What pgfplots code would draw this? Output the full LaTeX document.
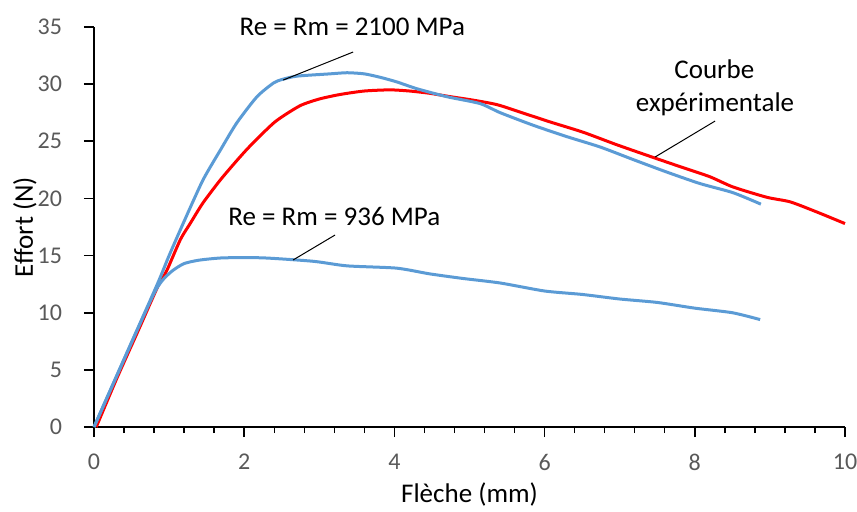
\documentclass[border=0pt]{standalone}
\usepackage{pgfplots}
\pgfplotsset{compat=1.18}
\usepackage{fontspec}
\setmainfont{Carlito}
\definecolor{xlblue}{HTML}{5B9BD5}
\definecolor{ticklab}{HTML}{595959}
\begin{document}
\begin{tikzpicture}
\path[use as bounding box] (-47pt,-42pt) rectangle (381.5pt,213.5pt);
\begin{axis}[
  at={(0,0)}, anchor=south west,
  scale only axis, width=375.5pt, height=200pt,
  xmin=0, xmax=10, ymin=0, ymax=35,
  xtick={0,2,...,10}, ytick={0,5,...,35},
  minor x tick num=4,
  axis x line*=bottom, axis y line*=left,
  axis line style={black, line width=1pt, -},
  tick align=outside,
  major tick length=5pt, minor tick length=3pt,
  every tick/.style={black, line width=0.8pt},
  minor tick style={black, line width=0.7pt},
  /pgf/number format/assume math mode=true,
  ticklabel style={font=\fontsize{12pt}{14pt}\selectfont, text=ticklab},
  xticklabel style={yshift=-5pt},
  yticklabel style={xshift=-7.5pt},
  xlabel={Flèche (mm)}, ylabel={Effort (N)},
  label style={font=\fontsize{13.5pt}{16pt}\selectfont},
  xlabel style={at={(axis description cs:0.5,-0.168)}, anchor=center},
  ylabel style={at={(axis description cs:-0.092,0.5)}, anchor=center, rotate=0},
  clip=false,
]
% Courbe expérimentale (red)
\addplot[red, line width=1.5pt, line join=round, smooth, tension=0.4] coordinates {
(0.03,0)(0.3,4.2)(0.6,8.6)(0.85,12.3)(0.97,13.7)(1.15,16.4)(1.28,17.8)(1.45,19.6)
(1.68,21.6)(1.9,23.3)(2.08,24.6)(2.41,26.7)(2.74,28.1)(3.0,28.7)(3.28,29.1)(3.6,29.4)
(3.94,29.5)(4.2,29.4)(4.47,29.2)(4.75,28.9)(5.05,28.6)(5.37,28.2)(5.7,27.5)(6.07,26.7)
(6.51,25.8)(6.96,24.7)(7.44,23.6)(7.84,22.7)(8.2,21.9)(8.51,21.0)(8.96,20.1)(9.27,19.7)
(9.63,18.8)(10.0,17.8)
};
% Re = Rm = 2100 MPa
\addplot[xlblue, line width=1.5pt, line join=round, smooth, tension=0.4] coordinates {
(0,0)(0.5,7.4)(0.85,12.6)(1.0,15.0)(1.2,18.0)(1.45,21.6)(1.68,24.2)(1.9,26.6)
(2.17,28.9)(2.39,30.1)(2.5,30.4)(2.7,30.7)(3.14,30.9)(3.37,31.0)(3.6,30.9)(3.81,30.6)
(4.03,30.2)(4.3,29.6)(4.7,28.9)(5.14,28.3)(5.41,27.5)(5.85,26.4)(6.3,25.4)(6.74,24.5)
(7.18,23.4)(7.63,22.3)(8.07,21.3)(8.51,20.5)(8.88,19.5)
};
% Re = Rm = 936 MPa
\addplot[xlblue, line width=1.5pt, line join=round, smooth, tension=0.4] coordinates {
(0,0)(0.5,7.4)(0.8,11.7)(0.92,12.9)(1.05,13.7)(1.2,14.3)(1.4,14.6)(1.72,14.8)(2.25,14.8)
(2.92,14.5)(3.37,14.1)(4.03,13.9)(4.47,13.4)(4.91,13.0)(5.41,12.6)(6.0,11.9)(6.5,11.6)
(7.0,11.2)(7.5,10.9)(8.0,10.4)(8.5,10.0)(8.87,9.4)
};
\draw[black, line width=0.5pt] (axis cs:2.52,30.36) -- (axis cs:3.45,32.81);
\draw[black, line width=0.5pt] (axis cs:2.65,14.61) -- (axis cs:3.21,16.80);
\draw[black, line width=0.5pt] (axis cs:7.47,23.62) -- (axis cs:8.27,26.77);
\node[anchor=base, font=\fontsize{13.5pt}{16pt}\selectfont, inner sep=0pt] at (axis cs:3.44,34.3) {Re = Rm = 2100 MPa};
\node[anchor=base, font=\fontsize{13.5pt}{16pt}\selectfont, inner sep=0pt] at (axis cs:3.20,17.67) {Re = Rm = 936 MPa};
\node[anchor=base, font=\fontsize{13.5pt}{16pt}\selectfont, inner sep=0pt] at (axis cs:8.26,30.53) {Courbe};
\node[anchor=base, font=\fontsize{13.5pt}{16pt}\selectfont, inner sep=0pt] at (axis cs:8.27,27.6) {expérimentale};
\end{axis}
\end{tikzpicture}
\end{document}
